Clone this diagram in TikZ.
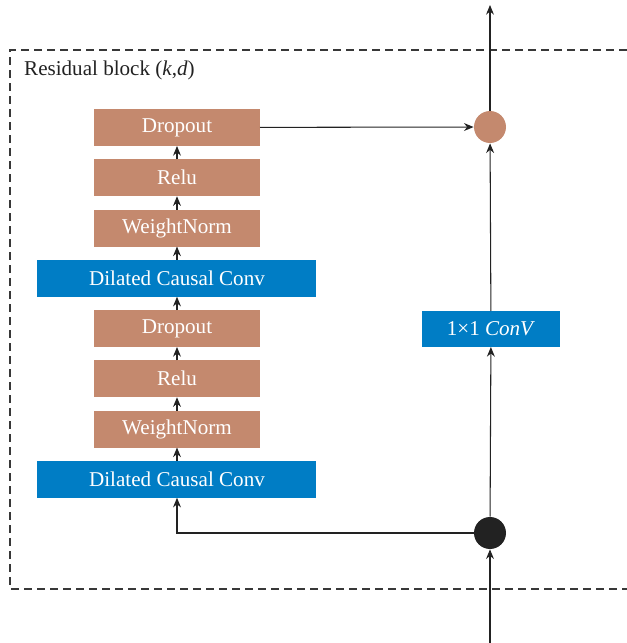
\documentclass[tikz,border=0pt]{standalone}
\usepackage{amsmath}
\usepackage{fontspec}
\setmainfont{Liberation Serif}
\usepackage{tikz}
\usetikzlibrary{positioning, arrows.meta}

\definecolor{boxbrown}{RGB}{196,137,110}
\definecolor{boxblue}{RGB}{0,125,197}
\definecolor{inkgray}{RGB}{34,34,34}

\tikzset{
    layerbox/.style={fill=boxbrown, text=white, minimum width=3.32cm, minimum height=0.74cm, inner sep=0pt, outer sep=0pt, font=\fontsize{12}{14}\selectfont},
    convbox/.style={fill=boxblue, text=white, minimum width=5.58cm, minimum height=0.74cm, inner sep=0pt, outer sep=0pt, font=\fontsize{12}{14}\selectfont},
    flow/.style={draw=inkgray, line width=0.6pt, -{Stealth[length=5.5pt, width=4.5pt]}},
}

\begin{document}
\begin{tikzpicture}[node distance=0.265cm]
    \useasboundingbox (0,0) rectangle (12.54,12.86);

    % residual block frame
    \draw[inkgray!90, line width=0.6pt, dash pattern=on 0.16cm off 0.1cm] (12.8,11.86) -- (0.2,11.86) -- (0.2,1.08) -- (12.8,1.08);
    \node[anchor=west, text=inkgray, font=\fontsize{12}{14}\selectfont] (title) at (0.36,11.46) {Residual block (\textit{k},\textit{d})};

    % main stack
    \node[layerbox] (drop1) at (3.54,10.31) {Dropout};
    \node[layerbox, below=of drop1] (relu1) {Relu};
    \node[layerbox, below=of relu1] (wn1) {WeightNorm};
    \node[convbox, below=of wn1] (dcc1) {Dilated Causal Conv};
    \node[layerbox, below=of dcc1] (drop2) {Dropout};
    \node[layerbox, below=of drop2] (relu2) {Relu};
    \node[layerbox, below=of relu2] (wn2) {WeightNorm};
    \node[convbox, below=of wn2] (dcc2) {Dilated Causal Conv};

    % shortcut branch
    \node[circle, fill=inkgray, minimum size=0.64cm, inner sep=0pt] (split) at (9.8,2.2) {};
    \node[convbox, minimum width=2.76cm, minimum height=0.72cm] (onebyone) at (9.82,6.28) {1×1 \textit{ConV}};
    \node[circle, fill=boxbrown, minimum size=0.64cm, inner sep=0pt] (add) at (9.8,10.32) {};
    \coordinate (input) at (9.8,0);
    \coordinate (output) at (9.8,12.76);

    \foreach \a/\b in {dcc2/wn2, wn2/relu2, relu2/drop2, drop2/dcc1, dcc1/wn1, wn1/relu1, relu1/drop1}
        \draw[flow] (\a) -- (\b);

    \draw[flow] (input) -- (split);
    \draw[flow] (split) -| (dcc2);
    \draw[flow] (split) -- (onebyone);
    \draw[flow] (onebyone) -- (add);
    \draw[flow] (drop1) -- (add);
    \draw[flow] (add) -- (output);
\end{tikzpicture}
\end{document}
